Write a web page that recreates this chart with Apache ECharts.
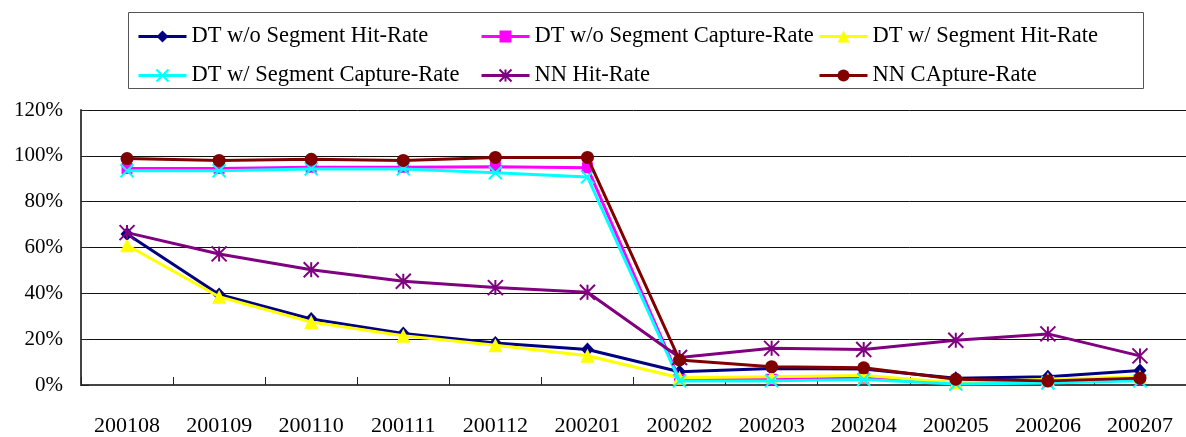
<!DOCTYPE html>
<html>
<head>
<meta charset="utf-8">
<script src="https://cdn.jsdelivr.net/npm/echarts@6/dist/echarts.min.js"></script>
<style>
html,body{margin:0;padding:0;background:#fff;}
#chart{width:1186px;height:437px;}
</style>
</head>
<body>
<div id="chart"></div>
<script>
const categories = ['200108','200109','200110','200111','200112','200201','200202','200203','200204','200205','200206','200207'];
const seriesNames = ['DT w/o Segment Hit-Rate','DT w/o Segment Capture-Rate','DT w/ Segment Hit-Rate','DT w/ Segment Capture-Rate','NN Hit-Rate','NN CApture-Rate'];
const dtWoHit     = [65.9, 39.5, 28.8, 22.5, 18.3, 15.5, 5.8, 7.2, 7.0, 2.9, 3.6, 6.3];
const dtWoCapture = [94.5, 94.5, 95.0, 95.0, 95.2, 94.8, 2.5, 2.5, 3.0, 1.0, 1.5, 2.5];
const dtWHit      = [61.0, 38.5, 27.5, 21.5, 17.3, 12.8, 3.2, 3.6, 4.2, 1.0, 2.5, 3.6];
const dtWCapture  = [93.5, 93.5, 94.3, 94.3, 92.6, 90.8, 1.8, 1.8, 2.4, 0.4, 0.9, 1.8];
const nnHit       = [66.5, 57.2, 50.3, 45.3, 42.5, 40.5, 12.0, 16.0, 15.5, 19.5, 22.3, 12.7];
const nnCapture   = [98.8, 98.0, 98.5, 98.0, 99.3, 99.3, 10.9, 8.0, 7.5, 2.5, 1.8, 3.0];
const yTicks = {min: 0, max: 120, interval: 20};

const FONT = '"Liberation Serif", "DejaVu Serif", serif';
const xPath = 'path://M0,0L10,10M10,0L0,10';
const starPath = 'path://M5,0L5,10M0,0L10,10M10,0L0,10';

const styles = [
  {color:'#000080', symbol:'diamond', size:[13,14]},
  {color:'#FF00FF', symbol:'rect', size:11},
  {color:'#FFFF00', symbol:'triangle', size:14},
  {color:'#00FFFF', symbol:xPath, size:13, stroke:true},
  {color:'#800080', symbol:starPath, size:15, stroke:true},
  {color:'#800000', symbol:'circle', size:13}
];
const values = [dtWoHit, dtWoCapture, dtWHit, dtWCapture, nnHit, nnCapture];

const series = values.map((v, i) => {
  const s = styles[i];
  return {
    name: seriesNames[i],
    type: 'line',
    data: v,
    symbol: s.symbol,
    symbolSize: s.size,
    showAllSymbol: true,
    lineStyle: {color: s.color, width: 3},
    itemStyle: s.stroke ? {color: s.color, borderColor: s.color, borderWidth: 2} : {color: s.color, borderWidth: 0},
    emphasis: {disabled: true},
    z: 2 + i
  };
});

function legend(names, left) {
  return {
    data: names,
    orient: 'vertical',
    left: left,
    top: 25,
    itemWidth: 48,
    itemHeight: 15,
    itemGap: 16,
    padding: 0,
    selectedMode: false,
    lineStyle: {width: 3},
    textStyle: {fontFamily: FONT, fontSize: 22.5, color: '#000'}
  };
}

const chart = echarts.init(document.getElementById('chart'), null, {renderer: 'canvas'});
chart.setOption({
  animation: false,
  backgroundColor: '#fff',
  graphic: [{
    type: 'rect',
    shape: {x: 128.5, y: 12.5, width: 1015, height: 76},
    style: {fill: 'none', stroke: '#555', lineWidth: 1},
    silent: true
  }],
  legend: [
    legend([seriesNames[0], seriesNames[3]], 137),
    legend([seriesNames[1], seriesNames[4]], 480),
    legend([seriesNames[2], seriesNames[5]], 818)
  ],
  grid: {left: 81, right: 0, top: 110, bottom: 52, containLabel: false},
  xAxis: {
    type: 'category',
    data: categories,
    boundaryGap: true,
    axisLine: {lineStyle: {color: '#444', width: 2}},
    axisTick: {show: true, inside: true, length: 8, lineStyle: {color: '#222'}},
    axisLabel: {fontFamily: FONT, fontSize: 22, color: '#000', margin: 30}
  },
  yAxis: {
    type: 'value',
    min: yTicks.min,
    max: yTicks.max,
    interval: yTicks.interval,
    axisLine: {show: true, lineStyle: {color: '#444', width: 2}},
    axisTick: {show: true, inside: true, length: 8, lineStyle: {color: '#222'}},
    splitLine: {show: true, lineStyle: {color: '#111', width: 1}},
    axisLabel: {fontFamily: FONT, fontSize: 21, color: '#000', margin: 18, formatter: '{value}%'}
  },
  series: series
});
</script>
</body>
</html>
